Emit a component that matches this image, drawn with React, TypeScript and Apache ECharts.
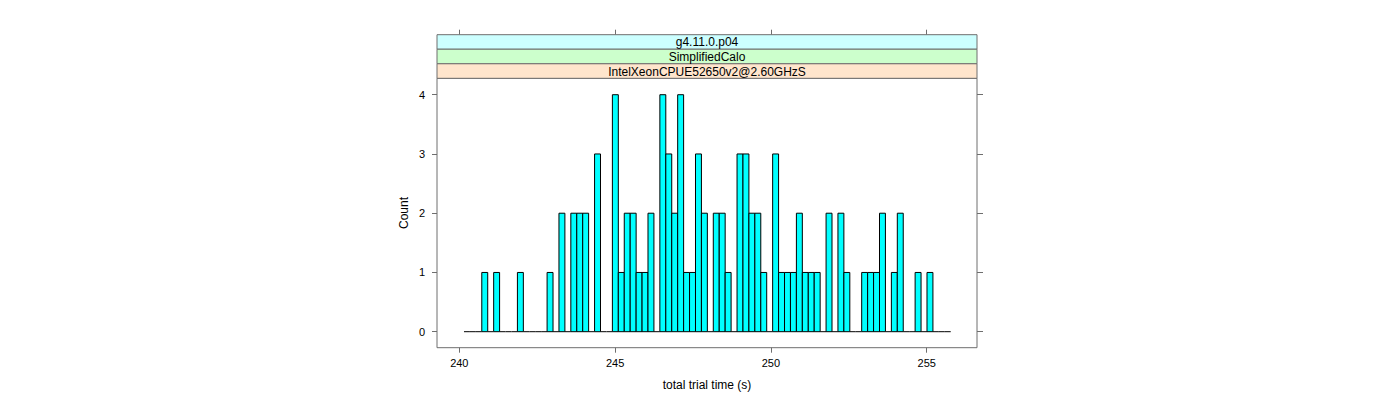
import React, { useEffect, useRef } from "react";
import * as echarts from "echarts";

// Histogram bins
const binStart = 240.15;
const binWidth = 0.1905;
const counts = [
  0, 0, 0, 1, 0, 1, 0, 0, 0, 1,
  0, 0, 0, 0, 1, 0, 2, 0, 2, 2,
  2, 0, 3, 0, 0, 4, 1, 2, 2, 1,
  1, 2, 0, 4, 3, 2, 4, 1, 1, 3,
  2, 0, 2, 2, 1, 0, 3, 3, 2, 2,
  1, 0, 3, 1, 1, 1, 2, 1, 1, 1,
  0, 2, 0, 2, 1, 0, 0, 1, 1, 1,
  2, 0, 1, 2, 0, 0, 1, 0, 1, 0,
  0, 0,
];
const xTicks = [240, 245, 250, 255];
const yTicks = [0, 1, 2, 3, 4];
const stripLabels = ["g4.11.0.p04", "SimplifiedCalo", "IntelXeonCPUE52650v2@2.60GHzS"];
const stripColors = ["#CCFFFF", "#CCFFCC", "#FFE5CC"];
const xTitle = "total trial time (s)";
const yTitle = "Count";

const FONT = "'Liberation Sans', Arial, sans-serif";
const BORDER = "#6e6e6e";

export default function App() {
  const ref = useRef<HTMLDivElement>(null);
  useEffect(() => {
    if (!ref.current) return;
    const chart = echarts.init(ref.current, null, { renderer: "svg" });
    const gl = 437, gr = 977, gt = 78.3, gb = 347.7;
    const stripTop = 34.7;
    const stripH = (gt - stripTop) / 3;
    const graphics: any[] = [];
    stripLabels.forEach((lab, k) => {
      const y = stripTop + k * stripH;
      graphics.push({
        type: "rect",
        shape: { x: gl, y, width: gr - gl, height: stripH },
        style: { fill: stripColors[k], stroke: BORDER, lineWidth: 1 },
        z: 5,
      });
      graphics.push({
        type: "text",
        x: (gl + gr) / 2,
        y: y + stripH / 2 + 0.5,
        style: {
          text: lab,
          fill: "#000",
          font: `12px ${FONT}`,
          textAlign: "center",
          textVerticalAlign: "middle",
        },
        z: 6,
      });
    });

    const xMin = 239.284, xMax = 256.614;
    const yMin = -0.27, yMax = 4.277;

    chart.setOption({
      animation: false,
      textStyle: { fontFamily: FONT },
      grid: {
        left: gl,
        top: gt,
        width: gr - gl,
        height: gb - gt,
        show: true,
        borderColor: BORDER,
        borderWidth: 1,
        backgroundColor: "transparent",
      },
      graphic: graphics,
      xAxis: [
        {
          type: "value",
          position: "bottom",
          min: xMin,
          max: xMax,
          axisLine: { show: false, onZero: false },
          splitLine: { show: false },
          axisTick: { show: true, length: 5, customValues: xTicks, lineStyle: { color: BORDER } },
          axisLabel: { customValues: xTicks, color: "#000", fontSize: 11, margin: 10, fontFamily: FONT },
          name: xTitle,
          nameLocation: "middle",
          nameGap: 31,
          nameTextStyle: { color: "#000", fontSize: 12, fontFamily: FONT },
        },
        {
          type: "value",
          position: "top",
          offset: gt - stripTop,
          min: xMin,
          max: xMax,
          axisLine: { show: false, onZero: false },
          splitLine: { show: false },
          axisTick: { show: true, length: 5, customValues: xTicks, lineStyle: { color: BORDER } },
          axisLabel: { show: false },
        },
      ],
      yAxis: [
        {
          type: "value",
          position: "left",
          min: yMin,
          max: yMax,
          axisLine: { show: false, onZero: false },
          splitLine: { show: false },
          axisTick: { show: true, length: 5, customValues: yTicks, lineStyle: { color: BORDER } },
          axisLabel: { customValues: yTicks, color: "#000", fontSize: 11, margin: 12, fontFamily: FONT },
          name: yTitle,
          nameLocation: "middle",
          nameGap: 27,
          nameRotate: 90,
          nameTextStyle: { color: "#000", fontSize: 12, fontFamily: FONT },
        },
        {
          type: "value",
          position: "right",
          min: yMin,
          max: yMax,
          axisLine: { show: false, onZero: false },
          splitLine: { show: false },
          axisTick: { show: true, length: 6, customValues: yTicks, lineStyle: { color: BORDER } },
          axisLabel: { show: false },
        },
      ],
      series: [
        {
          type: "custom",
          xAxisIndex: 0,
          yAxisIndex: 0,
          data: counts.map((c, i) => [i, c]),
          renderItem: (params: any, api: any) => {
            const i = api.value(0);
            const c = api.value(1);
            const x0 = binStart + i * binWidth;
            const x1 = x0 + binWidth;
            const p0 = api.coord([x0, 0]);
            const p1 = api.coord([x1, c]);
            if (c > 0) {
              return {
                type: "rect",
                shape: { x: p0[0], y: p1[1], width: p1[0] - p0[0], height: p0[1] - p1[1] },
                style: { fill: "#00FFFF", stroke: "#000", lineWidth: 1 },
              };
            }
            return {
              type: "line",
              shape: { x1: p0[0], y1: p0[1], x2: p1[0], y2: p0[1] },
              style: { stroke: "#000", lineWidth: 1 },
            };
          },
        },
      ],
    });
    return () => chart.dispose();
  }, []);
  return (
    <div
      ref={ref}
      style={{ position: "absolute", left: 0, top: 0, width: 1400, height: 400, background: "#fff" }}
    />
  );
}
